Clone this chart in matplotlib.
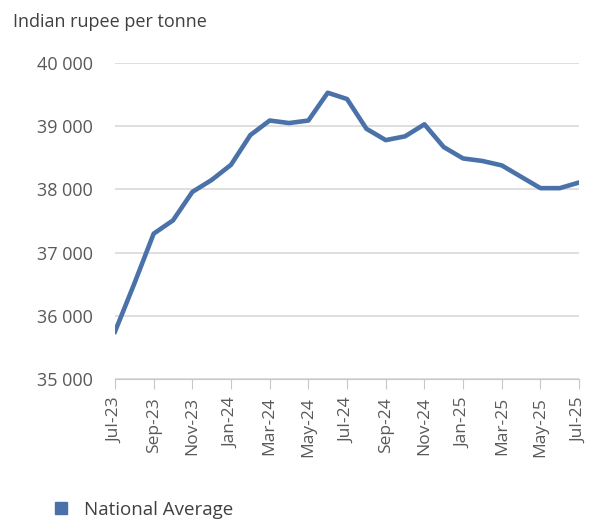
import matplotlib
matplotlib.use('Agg')
import matplotlib.pyplot as plt
from matplotlib.lines import Line2D
import numpy as np

plt.rcParams['font.family'] = ['Open Sans', 'DejaVu Sans']

months = ['Jul-23', 'Aug-23', 'Sep-23', 'Oct-23', 'Nov-23', 'Dec-23',
          'Jan-24', 'Feb-24', 'Mar-24', 'Apr-24', 'May-24', 'Jun-24',
          'Jul-24', 'Aug-24', 'Sep-24', 'Oct-24', 'Nov-24', 'Dec-24',
          'Jan-25', 'Feb-25', 'Mar-25', 'Apr-25', 'May-25', 'Jun-25', 'Jul-25']
national_avg = [35750, 36510, 37300, 37510, 37960, 38150,
                38390, 38860, 39090, 39050, 39090, 39530,
                39430, 38960, 38780, 38840, 39030, 38670,
                38490, 38450, 38380, 38200, 38020, 38020, 38110]
y_ticks = [35000, 36000, 37000, 38000, 39000, 40000]

fig = plt.figure(figsize=(6.02, 5.23), dpi=100)
ax = fig.add_axes([0.191, 0.2753, 0.771, 0.6042])

x = np.arange(len(months))
ax.plot(x, national_avg, color='#4a72a8', lw=3.3, solid_joinstyle='round', zorder=3)

ax.set_xlim(0, len(months) - 1)
ax.set_ylim(35000, 40000)
ax.set_yticks(y_ticks)
ax.set_yticklabels([f'{v:,}'.replace(',', ' ') for v in y_ticks])
ax.set_xticks(x[::2])
ax.set_xticklabels(months[::2], rotation=90)

ax.grid(axis='y', color='#d9d9d9', lw=1.2)
ax.set_axisbelow(True)
for s in ['left', 'right', 'top']:
    ax.spines[s].set_visible(False)
ax.spines['bottom'].set_color('#c8c8c8')
ax.tick_params(axis='y', length=0, pad=16, labelsize=13, labelcolor='#595959')
ax.tick_params(axis='x', length=7, color='#c8c8c8', pad=6, labelsize=12.5, labelcolor='#595959')

fig.text(0.022, 0.958, 'Indian rupee per tonne', fontsize=13, color='#404040', va='center')

handle = Line2D([], [], marker='s', ls='', color='#4a72a8', markersize=9)
fig.legend([handle], ['National Average'], loc='center left', bbox_to_anchor=(0.055, 0.025),
           frameon=False, fontsize=13.5, handletextpad=0.6, handlelength=1.2,
           labelcolor='#404040')

fig.savefig('out.png', dpi=100)
